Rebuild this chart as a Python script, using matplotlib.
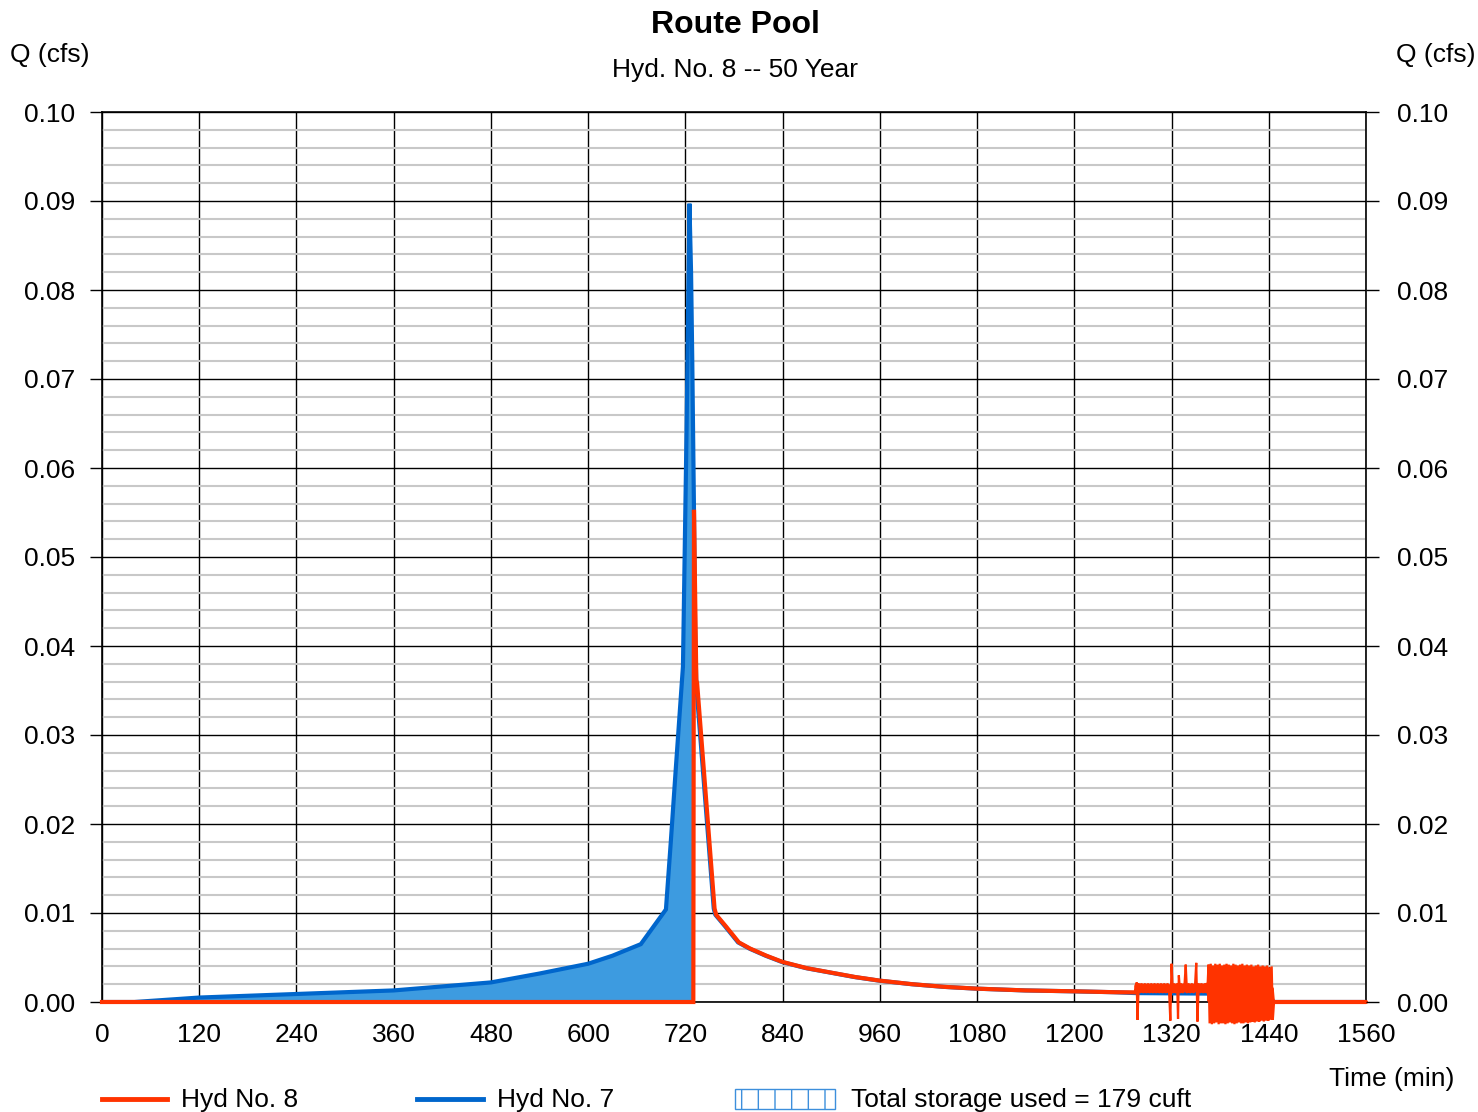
import numpy as np
import matplotlib
matplotlib.use("Agg")
import matplotlib.pyplot as plt
from matplotlib.lines import Line2D
from matplotlib.patches import Rectangle

plt.rcParams['font.family'] = ['Liberation Sans', 'DejaVu Sans']

# ---------------- data ----------------
title = "Route Pool"
subtitle = "Hyd. No. 8 -- 50 Year"
x_ticks = [0, 120, 240, 360, 480, 600, 720, 840, 960, 1080, 1200, 1320, 1440, 1560]
y_ticks = [0.00, 0.01, 0.02, 0.03, 0.04, 0.05, 0.06, 0.07, 0.08, 0.09, 0.10]

# Hyd No. 7 (inflow)
hyd7_t = [0, 40, 120, 240, 360, 480, 540, 600, 630, 665, 696, 702, 708, 717, 721.5,
          725, 727, 728.5, 729.5, 730.6, 732, 733.5, 755, 757, 769, 785, 799, 819,
          839, 869, 899, 929, 959, 999, 1039, 1079, 1139, 1199, 1249, 1276,
          1440, 1446, 1560]
hyd7_q = [0.0, 0.0, 0.0005, 0.0009, 0.0013, 0.0022, 0.0032, 0.0043, 0.0052, 0.0065,
          0.0104, 0.018, 0.026, 0.0377, 0.0645, 0.0897, 0.082, 0.072, 0.064, 0.0553,
          0.042, 0.0355, 0.0105, 0.0098, 0.0085, 0.0067, 0.0060, 0.0052, 0.0045,
          0.0038, 0.0033, 0.0028, 0.0024, 0.0020, 0.0017, 0.0015, 0.0013, 0.0012,
          0.0011, 0.0010, 0.0009, 0.0, 0.0]

# Hyd No. 8 (outflow) - smooth part
hyd8_t = [0, 729.8, 730.6, 733.5, 734.5, 756, 758, 770, 786, 800, 820, 840, 870,
          900, 930, 960, 1000, 1040, 1080, 1140, 1200, 1250, 1276]
hyd8_q = [0.0, 0.0, 0.0553, 0.0362, 0.0358, 0.0105, 0.0098, 0.0085, 0.0067, 0.0060,
          0.0052, 0.0045, 0.0038, 0.0033, 0.0028, 0.0024, 0.0020, 0.0017, 0.0015,
          0.0013, 0.0012, 0.0011, 0.00108]

# Hyd No. 8 - unstable outlet oscillation, first part
osc1_t = [1277, 1278, 1279.5, 1281, 1283, 1285, 1287, 1289, 1291, 1293, 1295, 1297,
          1299, 1301, 1303, 1305, 1307, 1309, 1311, 1313, 1315, 1317, 1318.5, 1320,
          1321.5, 1323, 1325, 1327, 1328, 1329, 1330.5, 1332, 1334, 1336, 1337.5,
          1339, 1341, 1343, 1345, 1347, 1349, 1350.5, 1352, 1353.5, 1355, 1357, 1359,
          1361, 1363, 1364.5]
osc1_q = [0.0022, -0.0020, 0.0019, 0.0012, 0.0019, 0.0012, 0.0019, 0.0012, 0.0019,
          0.0012, 0.0019, 0.0012, 0.0019, 0.0012, 0.0019, 0.0012, 0.0019, 0.0012,
          0.0019, 0.0012, 0.0019, 0.0012, -0.0021, 0.0043, 0.0012, 0.0019, 0.0012,
          0.0019, -0.0019, 0.0030, 0.0012, 0.0019, 0.0012, 0.0019, 0.0042, 0.0012,
          0.0019, 0.0012, 0.0019, 0.0012, 0.0019, 0.0044, -0.0022, 0.0019, 0.0012,
          0.0019, 0.0012, 0.0019, 0.0012, 0.0019]

# Hyd No. 8 - dense oscillation (sampled evenly between 1365.6 and 1445 min)
osc2_q = [0.0042, -0.0024, 0.0043, -0.0025, 0.0041, -0.0024, 0.0043, -0.0023,
          0.0042, -0.0025, 0.0043, -0.0024, 0.0041, -0.0024, 0.0042, -0.0025,
          0.0043, -0.0024, 0.0042, -0.0023, 0.0041, -0.0024, 0.0043, -0.0025,
          0.0042, -0.0024, 0.0041, -0.0023, 0.0042, -0.0024, 0.0043, -0.0024,
          0.0041, -0.0023, 0.0042, -0.0024, 0.0041, -0.0023, 0.0042, -0.0022,
          0.0040, -0.0023, 0.0041, -0.0022, 0.0042, -0.0022, 0.0040, -0.0021,
          0.0041, -0.0022, 0.0040, -0.0021, 0.0041, -0.0021, 0.0039, -0.0020,
          0.0040, -0.0020]
osc2_start, osc2_end = 1365.6, 1445.0

# Hyd No. 8 - tail
tail_t = [1446.5, 1560]
tail_q = [0.0, 0.0]

storage_label = "Total storage used = 179 cuft"

# ---------------- styling ----------------
RED = '#ff3300'
BLUE = '#0066cc'
FILL = '#3d9be0'
GRAY = '#c8c8c8'
FS = 19

W, H = 1478, 1112
fig = plt.figure(figsize=(W / 100, H / 100), dpi=100)
L, R, B, T = 102, 1366, 1002, 112
ax = fig.add_axes([L / W, 1 - B / H, (R - L) / W, (B - T) / H])

osc2_t = np.linspace(osc2_start, osc2_end, len(osc2_q))
all_red_t = np.concatenate([hyd8_t, osc1_t, osc2_t, tail_t])
all_red_q = np.concatenate([hyd8_q, osc1_q, osc2_q, tail_q])

t7 = np.array(hyd7_t, dtype=float)
q7 = np.array(hyd7_q, dtype=float)
mask = t7 <= 730.6
lower = np.interp(t7[mask], all_red_t, all_red_q)
ax.fill_between(t7[mask], q7[mask], lower, color=FILL, lw=0, zorder=2)

ax.plot(t7, q7, color=BLUE, lw=3.0, zorder=3, solid_joinstyle='miter')
# smooth outflow
ax.plot(hyd8_t, hyd8_q, color=RED, lw=3.0, zorder=4, solid_joinstyle='miter',
        clip_on=False)
# oscillating outflow: finer pen for the teeth plus a solid core band
osc_t = np.concatenate([hyd8_t[-1:], osc1_t, osc2_t, tail_t[:1]])
osc_q = np.concatenate([hyd8_q[-1:], osc1_q, osc2_q, tail_q[:1]])
ax.plot(osc_t, osc_q, color=RED, lw=1.6, zorder=4, solid_joinstyle='miter',
        clip_on=False)
t1 = np.concatenate([hyd8_t[-1:], osc1_t])
q1 = np.concatenate([hyd8_q[-1:], osc1_q])
ax.plot(t1, np.clip(q1, 0.0012, 0.0019), color=RED, lw=3.0, zorder=4, clip_on=False)
t2 = np.concatenate([osc1_t[-1:], osc2_t])
q2 = np.concatenate([osc1_q[-1:], osc2_q])
ax.plot(t2, np.clip(q2, 0.0001, 0.0015), color=RED, lw=3.0, zorder=4, clip_on=False)
ax.plot(tail_t, tail_q, color=RED, lw=3.0, zorder=4, clip_on=False,
        solid_capstyle='round')

ax.set_xlim(0, 1560)
ax.set_ylim(0, 0.10)
ax.set_xticks(x_ticks)
ax.set_yticks(y_ticks)
ax.set_yticks(np.arange(0, 0.1001, 0.002), minor=True)
ax.set_yticklabels([f"{v:.2f}" for v in y_ticks])
ax.set_axisbelow(True)
ax.grid(which='minor', axis='y', color=GRAY, lw=1.5, zorder=0)
ax.grid(which='major', axis='y', color='black', lw=1.0, zorder=1)
ax.grid(which='major', axis='x', color='black', lw=1.0, zorder=1)
for s in ax.spines.values():
    s.set_color('black')
    s.set_linewidth(1.2)
ax.tick_params(axis='y', which='major', length=9, width=1.0, direction='out',
               labelsize=FS, pad=10, color='black')
ax.tick_params(axis='y', which='minor', length=0)
ax.tick_params(axis='x', length=0, labelsize=FS, pad=15)

ax2 = ax.twinx()
ax2.set_ylim(0, 0.10)
ax2.set_yticks(y_ticks)
ax2.set_yticklabels([f"{v:.2f}" for v in y_ticks])
ax2.tick_params(axis='y', length=9, width=1.0, direction='out', labelsize=FS,
                pad=13, color='black')
for s in ax2.spines.values():
    s.set_visible(False)

# titles and axis labels
fig.text(735 / W, 1 - 25 / H, title, ha='center', va='center', fontsize=23,
         fontweight='bold')
fig.text(735 / W, 1 - 70 / H, subtitle, ha='center', va='center', fontsize=FS)
fig.text(10 / W, 1 - 55 / H, "Q (cfs)", ha='left', va='center', fontsize=FS)
fig.text(1476 / W, 1 - 55 / H, "Q (cfs)", ha='right', va='center', fontsize=FS)
fig.text(1392 / W, 1 - 1079 / H, "Time (min)", ha='center', va='center', fontsize=FS)

# legend
ly = 1 - 1099 / H
fig.add_artist(Line2D([102 / W, 167 / W], [ly, ly], color=RED, lw=3.5,
                      transform=fig.transFigure))
fig.text(181 / W, 1 - 1100 / H, "Hyd No. 8", ha='left', va='center', fontsize=FS)
fig.add_artist(Line2D([417 / W, 483 / W], [ly, ly], color=BLUE, lw=3.5,
                      transform=fig.transFigure))
fig.text(497 / W, 1 - 1100 / H, "Hyd No. 7", ha='left', va='center', fontsize=FS)
rect = Rectangle((735 / W, 1 - 1109 / H), 100 / W, 20 / H, transform=fig.transFigure,
                 facecolor='white', edgecolor='#3d8fdc', hatch='|', lw=1.0)
fig.add_artist(rect)
fig.text(851 / W, 1 - 1100 / H, storage_label, ha='left', va='center', fontsize=FS)

fig.savefig("out.png", dpi=100)
